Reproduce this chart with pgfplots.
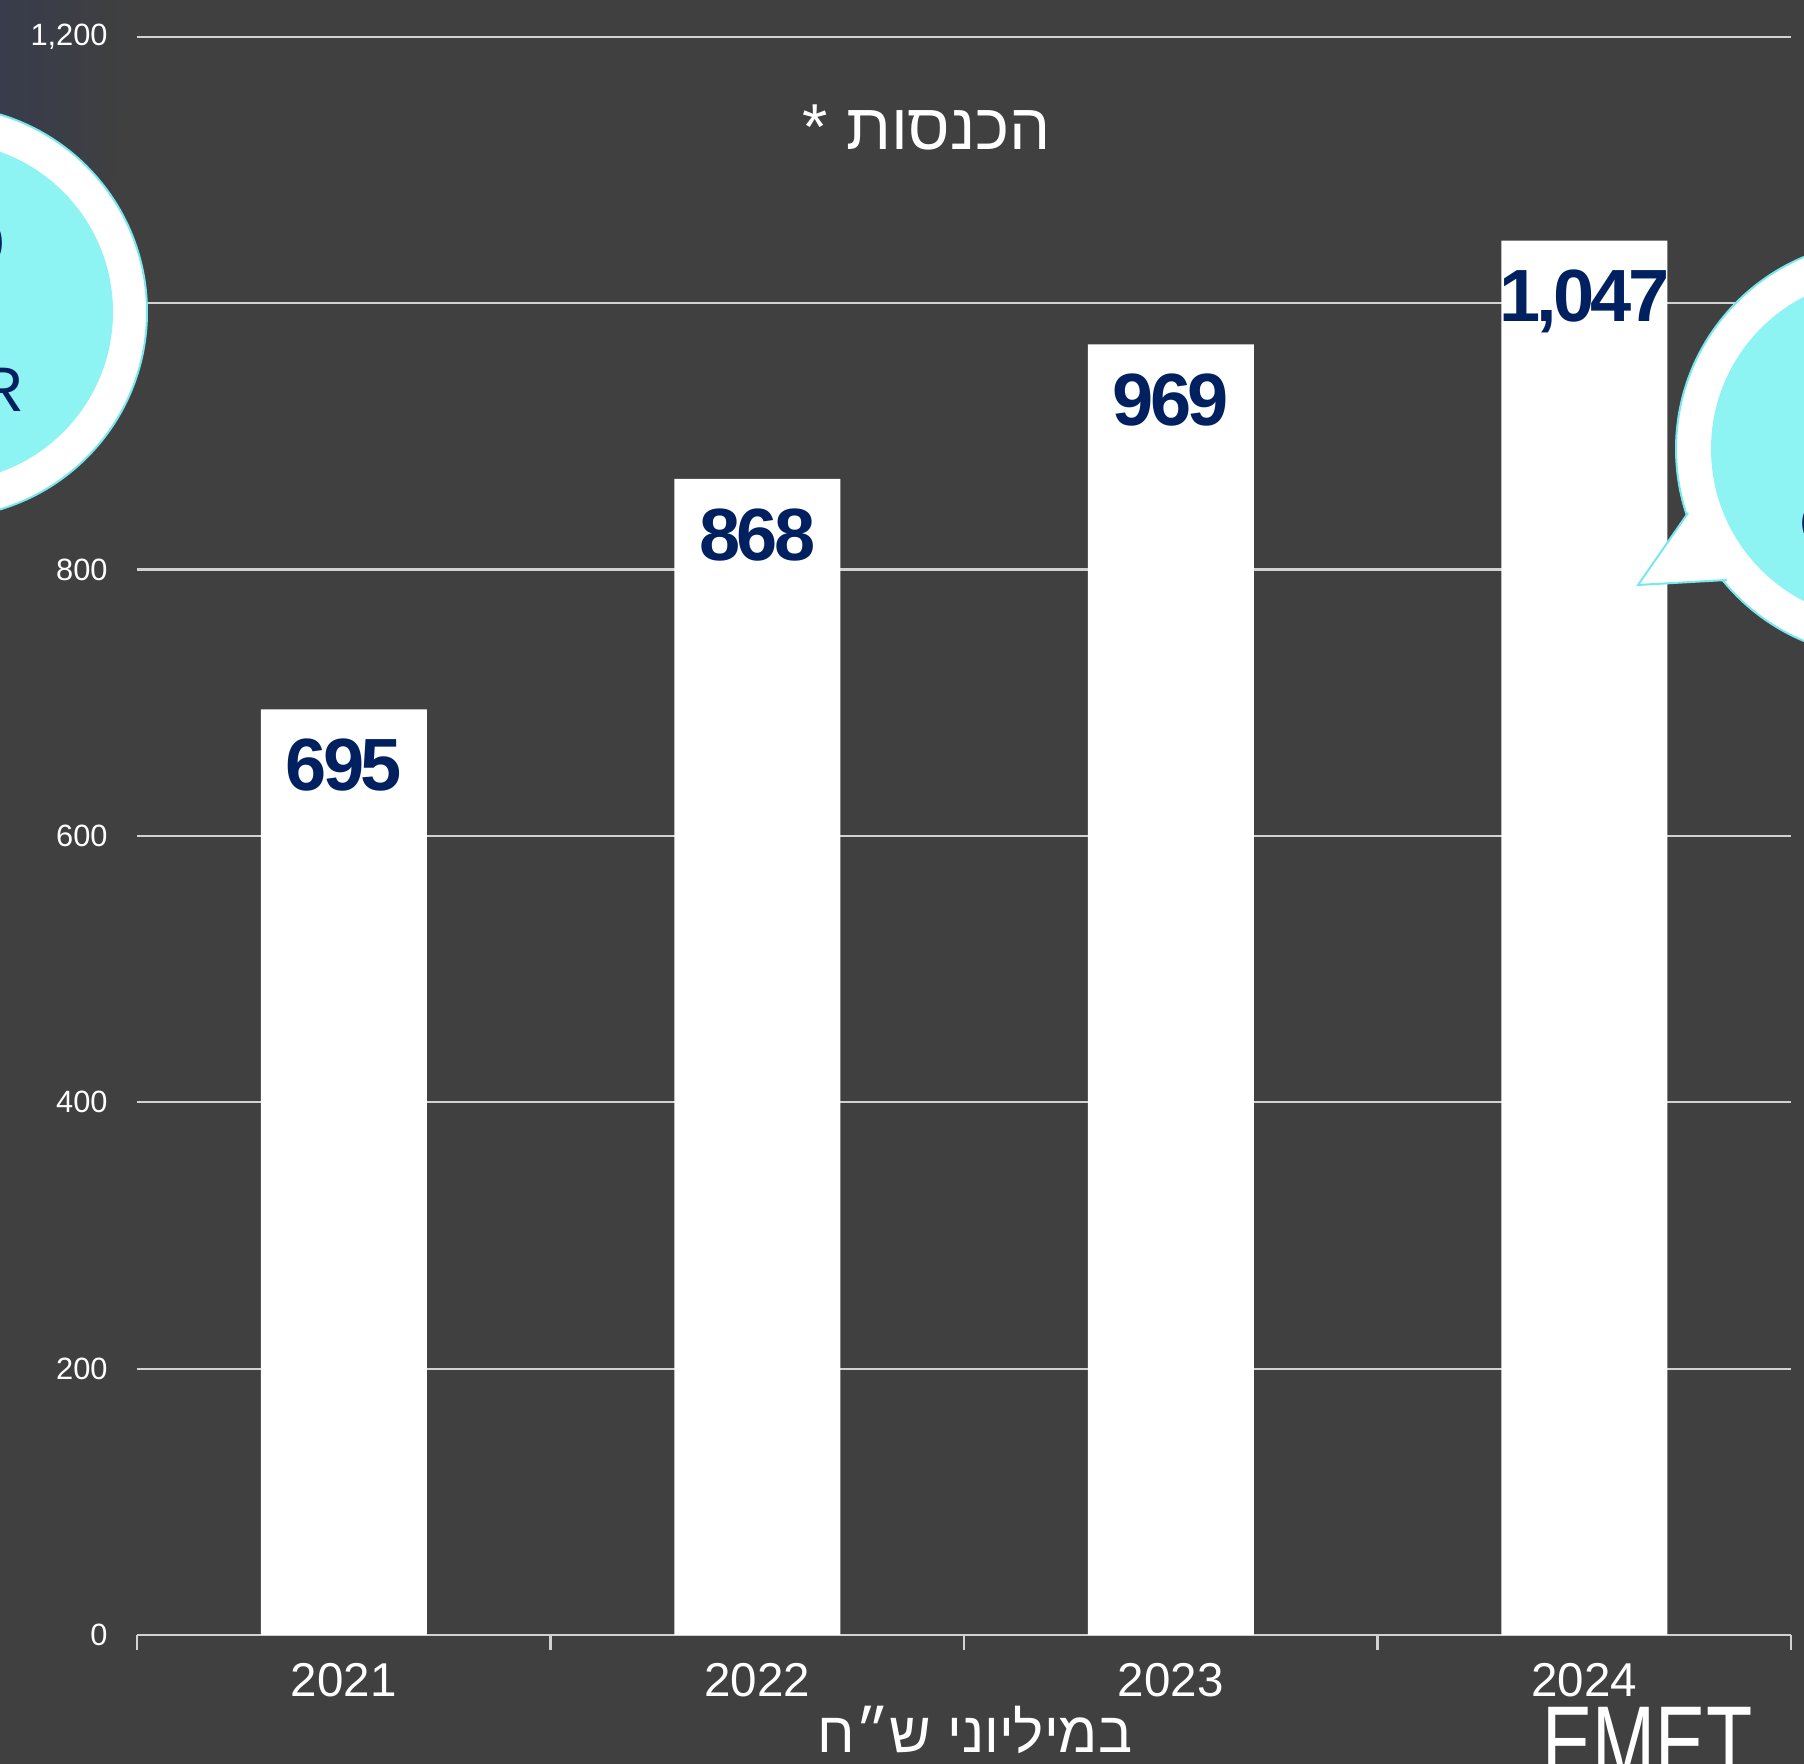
\documentclass[border=0pt]{standalone}
\usepackage{fontspec}
\setmainfont{Liberation Sans}
\newfontfamily\hebfont[Script=Hebrew]{Liberation Sans}
\newfontfamily\barfont[LetterSpace=-5]{Liberation Sans}
\usepackage{graphicx}
\usepackage{pgfplots}
\pgfplotsset{compat=1.18}
\TeXXeTstate=1
\definecolor{bg}{RGB}{64,64,64}
\definecolor{corner}{RGB}{56,60,76}
\definecolor{gridc}{RGB}{210,210,210}
\definecolor{navy}{RGB}{0,32,96}
\definecolor{cyanb}{RGB}{142,243,243}
\definecolor{cyanl}{RGB}{120,232,240}
\begin{document}
\begin{tikzpicture}[x=0.5pt,y=0.5pt]
\path[use as bounding box] (0,0) rectangle (1804,1764);
\clip (0,0) rectangle (1804,1764);
\fill[bg] (0,0) rectangle (1804,1764);
\shade[left color=corner, right color=bg] (0,1764) -- (128,1764) -- (92,1364) -- (0,1364) -- cycle;
\begin{axis}[
 at={(68.5pt,64.5pt)}, anchor=south west,
 scale only axis, width=827pt, height=799.1pt,
 xmin=-0.5, xmax=3.5, ymin=0, ymax=1200,
 ybar, bar width=83pt,
 axis lines=left,
 x axis line style={gridc, line width=1.1pt, -},
 y axis line style={draw=none},
 ytick={0,200,...,1200},
 xtick={0,1,2,3},
 xticklabels={2021,2022,2023,2024},
 minor xtick={-0.5,0.5,1.5,2.5,3.5},
 major tick length=0pt,
 minor tick length=7.5pt,
 tick align=outside,
 minor tick style={gridc, line width=1.1pt},
 ymajorgrids, grid style={gridc, line width=1.1pt},
 /pgf/number format/assume math mode=true,
 /pgf/number format/1000 sep={,},
 yticklabel style={font=\fontsize{15.4}{17}\selectfont, color=white, anchor=east, inner sep=0pt, xshift=-14.5pt},
 xticklabel style={font=\fontsize{23.75}{26}\selectfont, color=white, anchor=north, inner sep=0pt, yshift=-14pt},
 nodes near coords,
 every node near coord/.append style={font=\barfont\bfseries\fontsize{37}{40}\selectfont, color=navy, anchor=north, inner sep=0pt, yshift=-14.5pt},
]
\addplot[fill=white, draw=none] coordinates {(0,695)(1,868)(2,969)(3,1047)};
\end{axis}
% left bubble
\filldraw[fill=white, draw=cyanl, line width=1pt] (-59,1452) circle[radius=206];
\fill[cyanb] (-57,1452) circle[radius=170];
\node[anchor=south east, inner sep=0pt, text=navy, font=\fontsize{31.5}{34}\selectfont] at (24,1351) {CAGR};
\node[anchor=south east, inner sep=0pt, text=navy, font=\fontsize{45}{48}\selectfont] at (6,1500) {15\%};
% right bubble
\filldraw[fill=white, draw=cyanl, line width=1pt] (1884,1315) circle[radius=208];
\fill[white] (1688,1251) -- (1638,1179) -- (1727,1184) -- cycle;
\draw[cyanl, line width=1pt, line join=miter] (1688,1251) -- (1638,1179) -- (1727,1184);
\fill[cyanb] (1882,1315) circle[radius=171];
\node[anchor=south west, inner sep=0pt, text=navy, font=\fontsize{31.5}{34}\selectfont] at (1799,1217) {CAGR};
% title and unit
\node[anchor=base, inner sep=0pt, text=white, font=\hebfont\fontsize{32.5}{35}\selectfont] at (927,1614) {\beginR הכנסות *\endR};
\node[anchor=base, inner sep=0pt, text=white, font=\hebfont\fontsize{28.5}{31}\selectfont] at (975,11) {\beginR במיליוני ש״ח\endR};
% logo
\node[anchor=north west, inner sep=0pt, text=white] at (1542,57) {\scalebox{0.72}[1]{\fontsize{52.5}{55}\selectfont EMET}};
\end{tikzpicture}
\end{document}
